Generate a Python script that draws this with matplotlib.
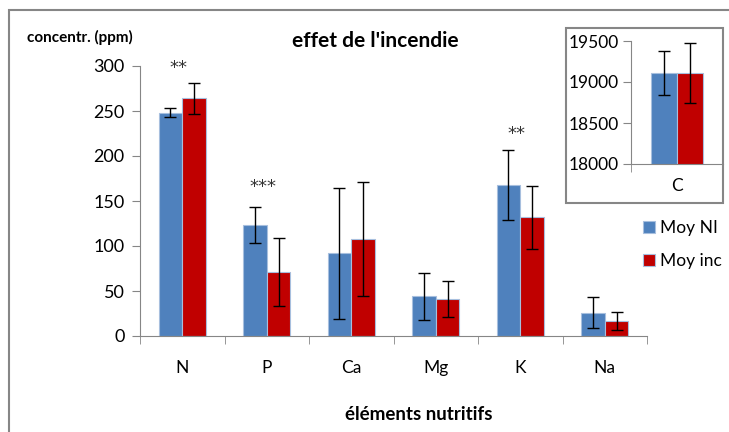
import numpy as np
import matplotlib.pyplot as plt
from matplotlib.patches import Rectangle

plt.rcParams['font.family'] = ['Lato', 'DejaVu Sans']

elements = ['N', 'P', 'Ca', 'Mg', 'K', 'Na']
moy_ni = [248, 123, 92, 44, 168, 26]
moy_ni_err = [5, 20, 73, 26, 39, 17]
moy_inc = [264, 71, 108, 41, 132, 17]
moy_inc_err = [17, 38, 63, 20, 35, 10]
stars = ['**', '***', '', '', '**', '']
stars_y = [298, 166, 0, 0, 224, 0]

carbone = ['C']
c_ni = [19110]
c_ni_err = [267]
c_inc = [19110]
c_inc_err = [360]

blue = '#4F81BD'
red = '#C00000'
gray = '#868686'

fig = plt.figure(figsize=(7.29, 4.32), dpi=100)

# outer frame of the chart area
fig.patches.append(Rectangle((9 / 729, -0.1), 1.0, (432 - 10) / 432 + 0.1,
                             transform=fig.transFigure, fill=False,
                             edgecolor=gray, linewidth=1.5))

ax = fig.add_axes([140 / 729, 96 / 432, 507 / 729, 270 / 432])
x = np.arange(len(elements))
w = 0.28
ekw = dict(ecolor='black', elinewidth=1, capsize=4, capthick=1)
ax.bar(x - w / 2, moy_ni, w, yerr=moy_ni_err, color=blue, edgecolor='#a7bfde',
       linewidth=0.8, label='Moy NI', error_kw=ekw)
ax.bar(x + w / 2, moy_inc, w, yerr=moy_inc_err, color=red, edgecolor='#a7bfde',
       linewidth=0.8, label='Moy inc', error_kw=ekw)

for i, s in enumerate(stars):
    if s:
        ax.text(x[i] - 0.04, stars_y[i], s, ha='center', va='center',
                fontsize=13, family='DejaVu Sans', color='#333333', clip_on=False)

ax.set_xlim(-0.5, len(elements) - 0.5)
ax.set_ylim(0, 300)
ax.set_yticks(range(0, 301, 50))
ax.set_xticks(x)
ax.set_xticklabels(elements, fontsize=12.5)
ax.set_xticks(np.arange(-0.5, len(elements)), minor=True)
ax.tick_params(axis='x', which='major', length=0, pad=17)
ax.tick_params(axis='x', which='minor', length=6, color=gray)
ax.tick_params(axis='y', labelsize=13, length=6, color=gray, pad=5)
for side in ['top', 'right']:
    ax.spines[side].set_visible(False)
for side in ['left', 'bottom']:
    ax.spines[side].set_color(gray)

ax.set_xlabel('éléments nutritifs', fontsize=13.5, fontweight='bold')
ax.xaxis.set_label_coords(0.55, -0.26)
fig.text(375 / 729, 1 - 41 / 432, "effet de l'incendie", ha='center', va='center',
         fontsize=15, fontweight='bold')
fig.text(27 / 729, 1 - 37 / 432, 'concentr. (ppm)', ha='left', va='center',
         fontsize=11, fontweight='bold')

ax.legend(loc='upper left', bbox_to_anchor=(636 / 729, 1 - 213 / 432),
          bbox_transform=fig.transFigure, frameon=False, fontsize=12.5,
          handlelength=0.7, handleheight=0.7, handletextpad=0.3,
          labelspacing=1.0, borderaxespad=0)

# inset for carbon
fig.patches.append(Rectangle((566 / 729, 1 - 203 / 432), 157 / 729, 175 / 432,
                             transform=fig.transFigure, fill=False,
                             edgecolor=gray, linewidth=1.5))
axi = fig.add_axes([631 / 729, 1 - 164 / 432, 92 / 729, 123 / 432])
xi = np.arange(len(carbone))
wi = 0.283
axi.bar(xi - wi / 2, c_ni, wi, yerr=c_ni_err, color=blue, edgecolor='#a7bfde',
        linewidth=0.8, error_kw=ekw)
axi.bar(xi + wi / 2, c_inc, wi, yerr=c_inc_err, color=red, edgecolor='#a7bfde',
        linewidth=0.8, error_kw=ekw)
axi.set_xlim(-0.5, 0.5)
axi.set_ylim(18000, 19500)
axi.set_yticks(range(18000, 19501, 500))
axi.set_xticks(xi)
axi.set_xticklabels(carbone, fontsize=12.5)
axi.set_xticks([-0.5], minor=True)
axi.tick_params(axis='x', which='major', length=0, pad=10)
axi.tick_params(axis='x', which='minor', length=6, color=gray)
axi.tick_params(axis='y', labelsize=12.5, length=6, color=gray, pad=3)
for side in ['top', 'right']:
    axi.spines[side].set_visible(False)
for side in ['left', 'bottom']:
    axi.spines[side].set_color(gray)

fig.savefig('out.png', dpi=100)
